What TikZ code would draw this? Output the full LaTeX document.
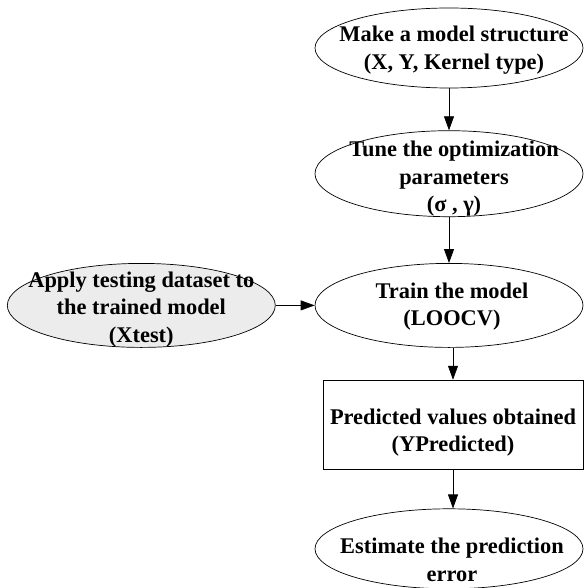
\documentclass[tikz,border=0pt]{standalone}
\usepackage{fontspec}
\setmainfont{Liberation Serif}
\usetikzlibrary{positioning,shapes,arrows.meta,calc}

\begin{document}
\begin{tikzpicture}[x=1pt,y=1pt]
\tikzset{
    stage/.style={ellipse, draw=black, line width=0.7pt, minimum width=268pt, minimum height=82pt, inner sep=0pt},
    result/.style={rectangle, draw=black, line width=0.7pt, minimum width=260pt, minimum height=89pt, inner sep=0pt},
    caption/.style={font=\fontsize{22.4}{27.5}\selectfont\bfseries, align=center, inner sep=0pt},
    flow/.style={line width=0.7pt, -{Triangle[length=14pt,width=10pt]}}
}
\useasboundingbox (0,0) rectangle (585,-588);

\node[stage, minimum height=80pt, label={[caption, yshift=-2pt, xshift=5pt]center:Make a model structure\\(X, Y, Kernel type)}] (make) at (449,-48) {};
\node[stage, minimum height=86pt, below=42pt of make, label={[caption, yshift=-5pt, xshift=5pt]center:Tune the optimization\\parameters\\(σ , γ)}] (tune) {};
\node[stage, minimum height=84pt, below=46pt of tune, label={[caption, yshift=-1pt, xshift=3pt]center:Train the model\\(LOOCV)}] (train) {};
\node[stage, minimum height=84pt, fill=gray!15, left=39pt of train, label={[caption, yshift=-4pt]center:Apply testing dataset to\\the trained model\\(Xtest)}] (test) {};
\node[result, below=32pt of train, xshift=4pt, label={[caption, yshift=-8pt]center:Predicted values obtained\\(YPredicted)}] (pred) {};
\node[stage, minimum height=80pt, below=39pt of pred, xshift=-4pt, label={[caption, yshift=-11pt, xshift=3pt]center:Estimate the prediction\\error}] (est) {};

\draw[flow] (make) -- (tune);
\draw[flow] (tune) -- (train);
\draw[flow] (test) -- (train);
\draw[flow] (train.south -| pred.north) -- (pred);
\draw[flow] (pred) -- (est.north -| pred.south);
\end{tikzpicture}
\end{document}
